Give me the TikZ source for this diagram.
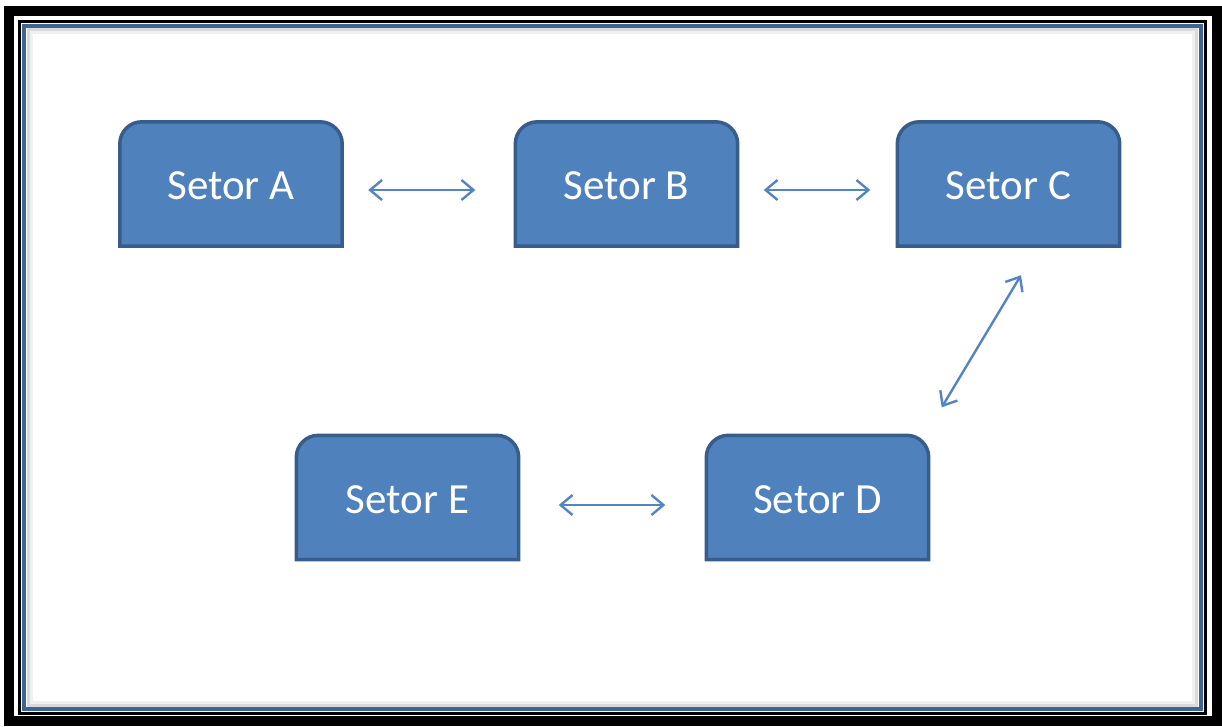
\documentclass[tikz,border=0pt]{standalone}
\usepackage{fontspec}
\setmainfont{Carlito}
\usepackage{xcolor}
\usetikzlibrary{arrows.meta,backgrounds}

\definecolor{setorfill}{HTML}{4F81BD}
\definecolor{setorline}{HTML}{385D8A}
\definecolor{linkblue}{HTML}{5485C1}
\definecolor{frameblue}{HTML}{3D6594}

\tikzset{
  setor/.style={minimum width=222pt, minimum height=124pt, inner sep=0pt,
    text=white, font=\fontsize{43}{43}\selectfont},
  setorbox/.style={fill=setorfill, draw=setorline, line width=3.5pt},
  link/.style={{Straight Barb[length=12pt,width=20pt]}-{Straight Barb[length=12pt,width=20pt]},
    line width=2.4pt, linkblue},
}

\begin{document}
\begin{tikzpicture}[x=1pt,y=-1pt]

\useasboundingbox (0,0) rectangle (1222,726);

% Frames
\draw[line width=10pt] (8.5,10.5) rectangle (1216.5,721);
\draw[line width=3pt] (19.5,21) rectangle (1205,713);
\draw[frameblue, line width=4pt] (24,25.5) rectangle (1200.5,709);
\draw[gray!30, line width=3pt] (28,29.5) rectangle (1196.5,705);
\draw[gray!12, line width=3pt] (31,32.5) rectangle (1193.5,702);

% Sectors
\node[setor] (a) at (231,186) {Setor A};
\node[setor] (b) at (626.5,186) {Setor B};
\node[setor] (c) at (1008.5,186) {Setor C};
\node[setor] (e) at (407.5,499.5) {Setor E};
\node[setor] (d) at (817.5,499.5) {Setor D};

% Boxes behind the text (top corners rounded)
\begin{scope}[on background layer]
\fill[white] (0,0) rectangle (1222,726);
\foreach \s in {a,b,c,d,e} {
    \draw[setorbox] ([yshift=2pt]\s.south west) [rounded corners=22pt] -- ([yshift=2pt]\s.north west)
        -- ([yshift=2pt]\s.north east) [sharp corners] -- ([yshift=2pt]\s.south east) -- cycle;
}
\end{scope}

% Connectors
\draw[link] ([xshift=26pt,yshift=-4pt]a.east) -- ([xshift=-40pt,yshift=-4pt]b.west);
\draw[link] ([xshift=26pt,yshift=-4pt]b.east) -- ([xshift=-27pt,yshift=-4pt]c.west);
\draw[link] ([xshift=40pt,yshift=-5.5pt]e.east) -- ([xshift=-41pt,yshift=-5.5pt]d.west);
\draw[link] ([xshift=12.5pt,yshift=-27pt]c.south) -- ([xshift=13pt,yshift=30pt]d.north east);

\end{tikzpicture}
\end{document}
